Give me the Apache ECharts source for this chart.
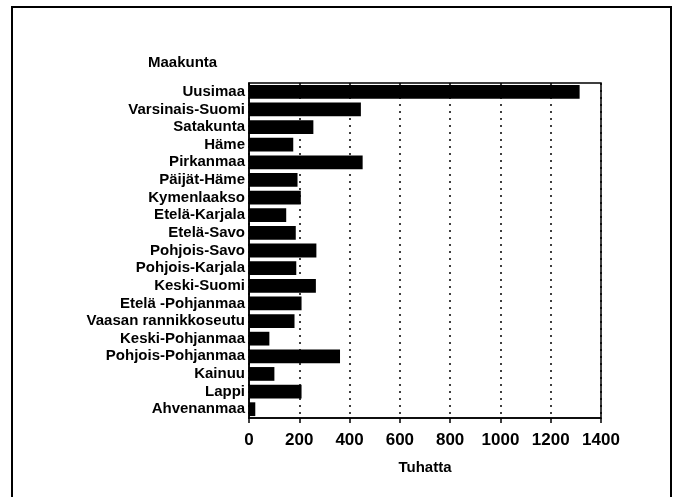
<!DOCTYPE html>
<html>
<head>
<meta charset="utf-8">
<script src="https://cdn.jsdelivr.net/npm/echarts@6/dist/echarts.min.js"></script>
<style>
  html, body { margin: 0; padding: 0; background: #fff; }
  #chart { width: 678px; height: 497px; }
</style>
</head>
<body>
<div id="chart"></div>
<script>
var categories = ['Uusimaa', 'Varsinais-Suomi', 'Satakunta', 'Häme', 'Pirkanmaa',
    'Päijät-Häme', 'Kymenlaakso', 'Etelä-Karjala', 'Etelä-Savo', 'Pohjois-Savo',
    'Pohjois-Karjala', 'Keski-Suomi', 'Etelä -Pohjanmaa', 'Vaasan rannikkoseutu',
    'Keski-Pohjanmaa', 'Pohjois-Pohjanmaa', 'Kainuu', 'Lappi', 'Ahvenanmaa'];
var values = [1315, 445, 256, 176, 452, 193, 206, 148, 186, 268,
    188, 266, 209, 181, 81, 362, 101, 209, 25];
var xTicks = [0, 200, 400, 600, 800, 1000, 1200, 1400];

var font = 'Liberation Sans';
var myChart = echarts.init(document.getElementById('chart'));
var option = {
    animation: false,
    backgroundColor: '#fff',
    textStyle: { fontFamily: font },
    graphic: [
        {
            type: 'rect',
            shape: { x: 12, y: 7, width: 659, height: 510 },
            style: { fill: 'none', stroke: '#000', lineWidth: 2 }
        },
        {
            type: 'text', left: 148, top: 55,
            style: { text: 'Maakunta', font: 'bold 15px ' + font, fill: '#000' }
        }
    ],
    grid: {
        left: 249, right: 77, top: 83, bottom: 79,
        show: true, borderColor: '#000', borderWidth: 1.5, backgroundColor: 'transparent'
    },
    xAxis: {
        type: 'value',
        min: 0, max: 1400, interval: 200,
        name: 'Tuhatta',
        nameLocation: 'middle',
        nameGap: 42,
        nameTextStyle: { color: '#000', fontSize: 15, fontWeight: 'bold', fontFamily: font },
        axisLine: { show: true, lineStyle: { color: '#000', width: 1.5 } },
        axisTick: { show: true, length: 5, lineStyle: { color: '#000', width: 1.5 } },
        axisLabel: {
            color: '#000', fontSize: 17, fontWeight: 'bold', margin: 14,
            formatter: function (v) { return xTicks.indexOf(v) >= 0 ? String(v) : ''; }
        },
        splitLine: { show: true, lineStyle: { color: '#000', type: [2, 5], width: 1.5 } }
    },
    yAxis: {
        type: 'category',
        data: categories,
        inverse: true,
        axisLine: { show: true, lineStyle: { color: '#000', width: 1.5 } },
        axisTick: { show: false },
        axisLabel: { color: '#000', fontSize: 15, fontWeight: 'bold', margin: 4, interval: 0 }
    },
    series: [
        {
            type: 'bar',
            data: values,
            barCategoryGap: '22%',
            itemStyle: { color: '#000' }
        }
    ]
};
myChart.setOption(option);
window.onresize = myChart.resize;
</script>
</body>
</html>
